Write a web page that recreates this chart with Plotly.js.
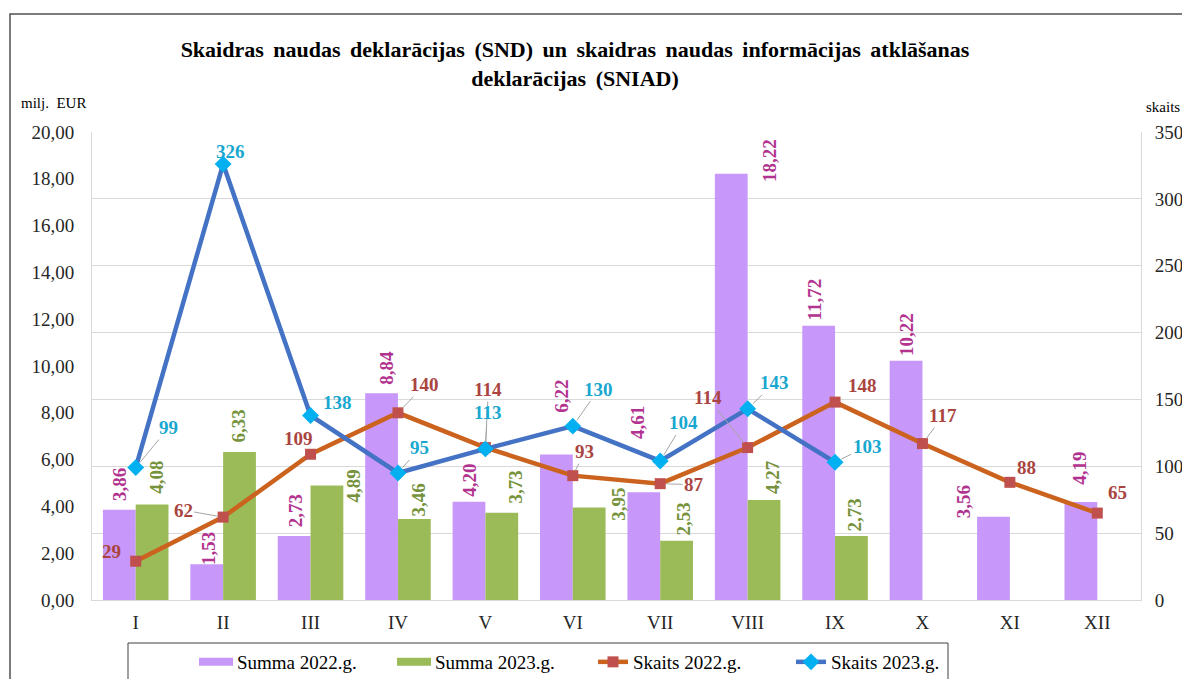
<!DOCTYPE html>
<html>
<head>
<meta charset="utf-8">
<script src="https://cdn.plot.ly/plotly-3.0.1.min.js"></script>
<style>
  html, body { margin: 0; padding: 0; background: #ffffff; overflow: hidden; }
  #chart { width: 1182px; height: 679px; }
  .gtitle { word-spacing: 4px; }
</style>
</head>
<body>
<div id="chart"></div>
<script>
// ---------- data ----------
const months = ['I', 'II', 'III', 'IV', 'V', 'VI', 'VII', 'VIII', 'IX', 'X', 'XI', 'XII'];
const summa2022 = [3.86, 1.53, 2.73, 8.84, 4.20, 6.22, 4.61, 18.22, 11.72, 10.22, 3.56, 4.19];
const summa2023 = [4.08, 6.33, 4.89, 3.46, 3.73, 3.95, 2.53, 4.27, 2.73, null, null, null];
const skaits2022 = [29, 62, 109, 140, 114, 93, 87, 114, 148, 117, 88, 65];
const skaits2023 = [99, 326, 138, 95, 113, 130, 104, 143, 103, null, null, null];
const seriesNames = ['Summa 2022.g.', 'Summa 2023.g.', 'Skaits 2022.g.', 'Skaits 2023.g.'];

// ---------- label nudges (pixels, relative to bar top / marker) ----------
const purpleNudgeX = [0, 1, 1, 5, 1, 5, -7, 38, -4, 1, -30, -1];
const purpleNudgeY = [-25, -16, -25, -25, -22, -58, -70, -13, -26, -26, -15, -34];
const greenNudgeX = [4, -1, 27, 4, 14, 29, 7, 8, 3];
const greenNudgeY = [-27, -26, 0, -19, -26, -3, -22, -23, -21];
const s22Ax = [-24, -40, -12, 27, 3, 12, 34, -40, 27, 21, 17, 20];
const s22Ay = [-10, -7, -16, -28, -58, -24, 1, -50, -17, -28, -15, -21];
const s22Lead = [0, 1, 0, 1, 1, 1, 1, 1, 0, 1, 0, 0];
const s23Ax = [33, 7, 27, 22, 2, 26, 23, 27, 32];
const s23Ay = [-40, -13, -13, -25, -36, -37, -38, -26, -16];
const s23Lead = [1, 0, 0, 1, 1, 1, 1, 1, 1];

// ---------- geometry ----------
const W = 1182, H = 679, ML = 92, MR = 41, MT = 132, MB = 79;
const PW = W - ML - MR, PH = H - MT - MB;
const BARGAP = 0.25;
const catW = PW / months.length;
const barOff = catW * (1 - BARGAP) / 4;
const px = x => (x - ML) / PW;
const py = y => (H - MB - y) / PH;

const SERIF = 'Liberation Serif, Times New Roman, serif';
const C_PURPLE = '#C897FA', C_GREEN = '#9BBB59';
const C_ORANGE = '#CB621E', C_SQUARE = '#C0504D';
const C_BLUE = '#4472C4', C_DIAMOND = '#00B0F0';
const T_PURPLE = '#B2338F', T_GREEN = '#76923C', T_RED = '#A9443F', T_CYAN = '#1AA7CF';

const fmt = v => v.toFixed(2).replace('.', ',');

const traces = [
  { type: 'bar', name: seriesNames[0], x: months, y: summa2022, marker: { color: C_PURPLE }, yaxis: 'y', hoverinfo: 'skip' },
  { type: 'bar', name: seriesNames[1], x: months, y: summa2023, marker: { color: C_GREEN }, yaxis: 'y', hoverinfo: 'skip' },
  { type: 'scatter', mode: 'lines+markers', name: seriesNames[2], x: months, y: skaits2022, yaxis: 'y2',
    line: { color: C_ORANGE, width: 4.5 }, marker: { symbol: 'square', size: 11, color: C_SQUARE }, hoverinfo: 'skip' },
  { type: 'scatter', mode: 'lines+markers', name: seriesNames[3], x: months, y: skaits2023, yaxis: 'y2',
    line: { color: C_BLUE, width: 4.5 }, marker: { symbol: 'diamond', size: 13, color: C_DIAMOND }, hoverinfo: 'skip' }
];

const annotations = [];
const LBL = 19;
const lblFont = (c) => ({ family: SERIF, size: LBL, color: c });

summa2022.forEach((v, i) => {
  if (v == null) return;
  annotations.push({ x: months[i], y: v, xref: 'x', yref: 'y', text: '<b>' + fmt(v) + '</b>', showarrow: false,
    textangle: -90, xanchor: 'center', yanchor: 'middle', xshift: -barOff + purpleNudgeX[i], yshift: -purpleNudgeY[i],
    font: lblFont(T_PURPLE) });
});
summa2023.forEach((v, i) => {
  if (v == null) return;
  annotations.push({ x: months[i], y: v, xref: 'x', yref: 'y', text: '<b>' + fmt(v) + '</b>', showarrow: false,
    textangle: -90, xanchor: 'center', yanchor: 'middle', xshift: barOff + greenNudgeX[i], yshift: -greenNudgeY[i],
    font: lblFont(T_GREEN) });
});
skaits2022.forEach((v, i) => {
  if (v == null) return;
  annotations.push({ x: months[i], y: v, xref: 'x', yref: 'y2', text: '<b>' + v + '</b>', showarrow: true,
    arrowhead: 0, arrowwidth: 1, standoff: 6, arrowcolor: s22Lead[i] ? '#A6A6A6' : 'rgba(0,0,0,0)',
    ax: s22Ax[i], ay: s22Ay[i], font: lblFont(T_RED) });
});
skaits2023.forEach((v, i) => {
  if (v == null) return;
  annotations.push({ x: months[i], y: v, xref: 'x', yref: 'y2', text: '<b>' + v + '</b>', showarrow: true,
    arrowhead: 0, arrowwidth: 1, standoff: 7, arrowcolor: s23Lead[i] ? '#A6A6A6' : 'rgba(0,0,0,0)',
    ax: s23Ax[i], ay: s23Ay[i], font: lblFont(T_CYAN) });
});
// axis unit captions
annotations.push({ xref: 'paper', yref: 'paper', x: px(19), y: py(103), xanchor: 'left', yanchor: 'middle',
  text: 'milj.\u00a0 EUR', showarrow: false, font: { family: SERIF, size: 15, color: '#000' } });
annotations.push({ xref: 'paper', yref: 'paper', x: px(1144), y: py(107), xanchor: 'left', yanchor: 'middle',
  text: 'skaits', showarrow: false, font: { family: SERIF, size: 15, color: '#000' } });

const shapes = [
  { type: 'rect', xref: 'paper', yref: 'paper', x0: px(10), x1: px(1250), y0: py(760), y1: py(14),
    line: { color: '#505050', width: 1.5 }, layer: 'below' },
  { type: 'rect', xref: 'paper', yref: 'paper', x0: px(128), x1: px(948), y0: py(740), y1: py(643),
    line: { color: '#404040', width: 1 } }
];

const tickFont = { family: SERIF, size: 19, color: '#262626' };

const layout = {
  width: W, height: H,
  margin: { l: ML, r: MR, t: MT, b: MB, pad: 0, autoexpand: false },
  paper_bgcolor: '#ffffff', plot_bgcolor: '#ffffff',
  separators: ',.',
  barmode: 'group', bargap: BARGAP, bargroupgap: 0,
  title: {
    text: '<b>Skaidras naudas deklarācijas (SND) un skaidras naudas informācijas atklāšanas<br>deklarācijas (SNIAD)</b>',
    font: { family: SERIF, size: 22, color: '#000' },
    x: 575 / W, xanchor: 'center', xref: 'container',
    y: 1 - 57 / H, yanchor: 'middle', yref: 'container'
  },
  xaxis: {
    type: 'category', range: [-0.5, months.length - 0.5], autorange: false,
    showgrid: false, showline: true, linecolor: '#D9D9D9', linewidth: 1,
    ticks: '', tickfont: tickFont, ticklabelstandoff: 5, fixedrange: true, automargin: false
  },
  yaxis: {
    range: [0, 20], autorange: false, dtick: 2, tick0: 0, tickformat: '.2f', showgrid: false, zeroline: false,
    showline: true, linecolor: '#D9D9D9', ticks: '', tickfont: tickFont, ticklabelstandoff: 13,
    fixedrange: true, automargin: false
  },
  yaxis2: {
    range: [0, 350], autorange: false, dtick: 50, tick0: 0, overlaying: 'y', side: 'right', showgrid: true, gridcolor: '#D9D9D9',
    gridwidth: 1, zeroline: false, showline: true, linecolor: '#D9D9D9', ticks: '', tickfont: tickFont,
    ticklabelstandoff: 9, fixedrange: true, automargin: false
  },
  showlegend: true,
  legend: {
    orientation: 'h', x: px(197), xanchor: 'left', y: py(643), yanchor: 'top',
    font: { family: SERIF, size: 19, color: '#000' }, bgcolor: 'rgba(0,0,0,0)', borderwidth: 0,
    entrywidth: 153, entrywidthmode: 'pixels', traceorder: 'normal'
  },
  annotations: annotations,
  shapes: shapes
};

Plotly.newPlot('chart', traces, layout, { displayModeBar: false, staticPlot: true }).then(function (gd) {
  // widen the bar legend swatches into flat rectangles, as in the original legend
  gd.querySelectorAll('.legend .legendpoints path').forEach(function (p) {
    if (p.getAttribute('d') === 'M6,6H-6V-6H6Z') p.setAttribute('d', 'M16,4H-18V-4H16Z');
  });
});
</script>
</body>
</html>
